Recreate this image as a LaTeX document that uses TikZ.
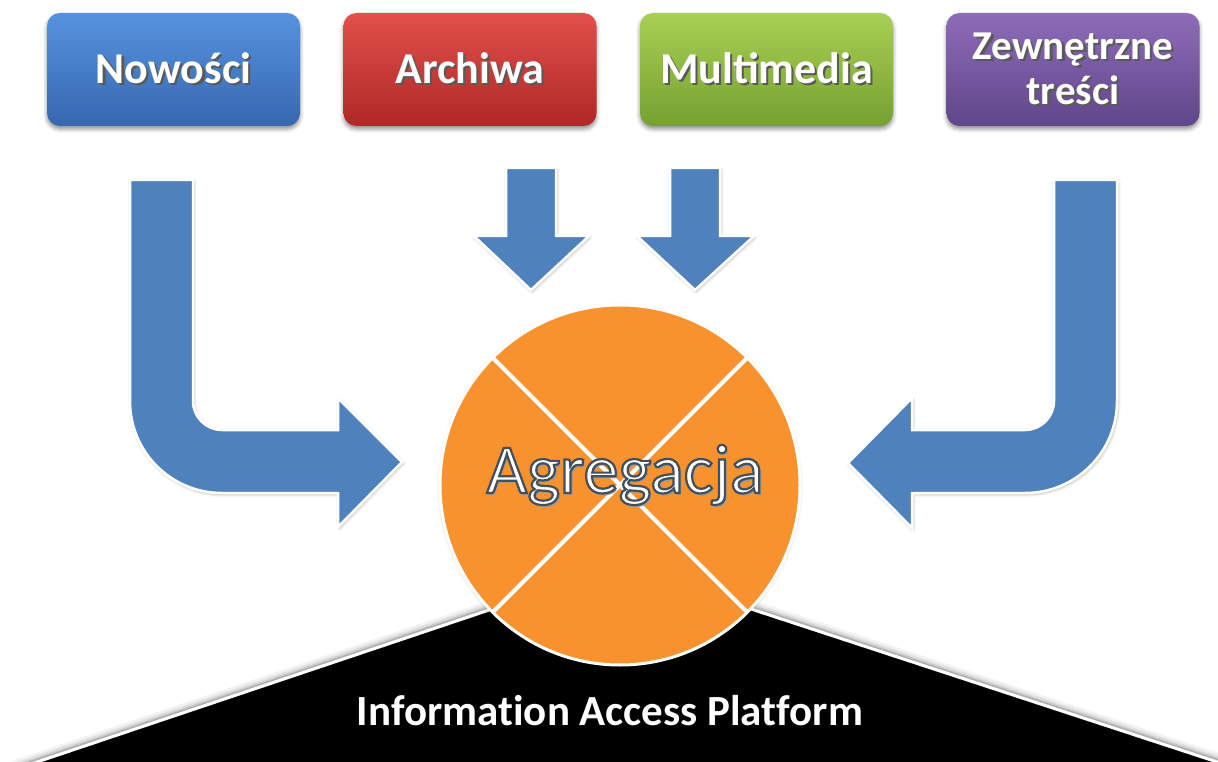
\documentclass[tikz,border=0pt]{standalone}
\usepackage{fontspec}
\setmainfont{Carlito}
\usetikzlibrary{shadows.blur,calc}

\definecolor{arrowblue}{RGB}{79,129,189}
\definecolor{bluetop}{RGB}{86,146,222}
\definecolor{bluebot}{RGB}{54,104,176}
\definecolor{redtop}{RGB}{226,80,74}
\definecolor{redbot}{RGB}{174,40,38}
\definecolor{greentop}{RGB}{168,208,84}
\definecolor{greenbot}{RGB}{118,160,48}
\definecolor{purptop}{RGB}{142,108,184}
\definecolor{purpbot}{RGB}{96,70,138}
\definecolor{aggorange}{RGB}{248,146,46}
\definecolor{outl}{RGB}{66,78,92}

\newcommand\shtxt[1]{\leavevmode\rlap{\hspace{2.2pt}\raisebox{-2.2pt}{\textcolor{black!65}{#1}}}#1}
\newcommand\outtxt[1]{\leavevmode
  \rlap{\hspace{2.2pt}\raisebox{-2.2pt}{\textcolor{black!40}{#1}}}%
  {\color{white}\special{pdf:literal direct 2 Tr 2.2 w 0.26 0.31 0.36 RG}#1\special{pdf:literal direct 0 Tr 1 w}}}

\tikzset{
  srcbox/.style={rounded corners=13pt, minimum width=253pt, minimum height=113pt,
    inner sep=0pt, align=center, text=white,
    font=\fontsize{44}{46}\selectfont\bfseries,
    blur shadow={shadow xshift=0pt, shadow yshift=-3pt, shadow blur radius=4pt, shadow opacity=45}},
  blockarrow/.style={fill=arrowblue, draw=white, line width=2.5pt, line join=miter,
    blur shadow={shadow xshift=1pt, shadow yshift=-1.5pt, shadow blur radius=3pt, shadow opacity=30}},
  aggnode/.style={circle, minimum size=360pt, inner sep=0pt, outer sep=0pt,
    fill=aggorange, draw=white, line width=3pt,
    blur shadow={shadow xshift=0pt, shadow yshift=-1pt, shadow blur radius=3pt, shadow opacity=30}},
  xline/.style={draw=white, line width=4pt},
}

\begin{document}
\begin{tikzpicture}[x=1pt,y=-1pt]
\useasboundingbox (0,0) rectangle (1218,762);

% platform triangle
\begin{scope}
  \clip (0,0) rectangle (1218,762);
  \foreach \w/\o in {18/0.05,13/0.07,9/0.10,6/0.14}
    \draw[black, opacity=\o, line width=\w pt, line join=round]
      (620,566) -- (1333,800) -- (-76,800) -- cycle;
  \fill[black] (620,566) -- (1333,800) -- (-76,800) -- cycle;
  \draw[white, line width=3pt] (-76,800) -- (620,566) -- (1333,800);
\end{scope}
\node[text=white, font=\fontsize{43}{45}\selectfont\bfseries\addfontfeatures{Ligatures=NoCommon}, anchor=base] (iap) at (610,725) {Information Access Platform};

% aggregation circle
\node[aggnode] (agg) at (620,485) {};
\draw[xline] (agg.135) -- (agg.-45);
\draw[xline] (agg.45) -- (agg.-135);
\node[font=\fontsize{70}{72}\selectfont, anchor=base, inner sep=0pt] (aggtext) at (625,493) {\outtxt{Agregacja}};

% source boxes
\node[srcbox, top color=bluetop, bottom color=bluebot] (nowosci) at (173.5,69.5) {\shtxt{Nowości}};
\node[srcbox, top color=redtop, bottom color=redbot] (archiwa) at (470,69.5) {\shtxt{Archiwa}};
\node[srcbox, top color=greentop, bottom color=greenbot] (multi) at (766.5,69.5) {\shtxt{Multimedia}};
\node[srcbox, top color=purptop, bottom color=purpbot, font=\fontsize{41}{45}\selectfont\bfseries] (zewn) at (1073,69.5) {\shtxt{Zewnętrzne}\\\shtxt{treści}};

% left bent arrow
\path[blockarrow] (130,180) -- (130,401) .. controls (130,452) and (171,493) .. (222,493)
  -- (338,493) -- (338,527) -- (402,462) -- (338,398) -- (338,430) -- (222,430)
  .. controls (206,430) and (193,417) .. (193,401) -- (193,180) -- cycle;

% right bent arrow
\path[blockarrow] (1117,180) -- (1117,401) .. controls (1117,452) and (1076,493) .. (1025,493)
  -- (912,493) -- (912,528) -- (848,463) -- (912,398) -- (912,430) -- (1025,430)
  .. controls (1041,430) and (1054,417) .. (1054,401) -- (1054,180) -- cycle;

% straight down arrows
\path[blockarrow] (506,168) -- (556,168) -- (556,236) -- (589,236) -- (531,290)
  -- (474,236) -- (506,236) -- cycle;
\path[blockarrow] (670,168) -- (720,168) -- (720,236) -- (754,236) -- (695,290)
  -- (637,236) -- (670,236) -- cycle;
\end{tikzpicture}
\end{document}
